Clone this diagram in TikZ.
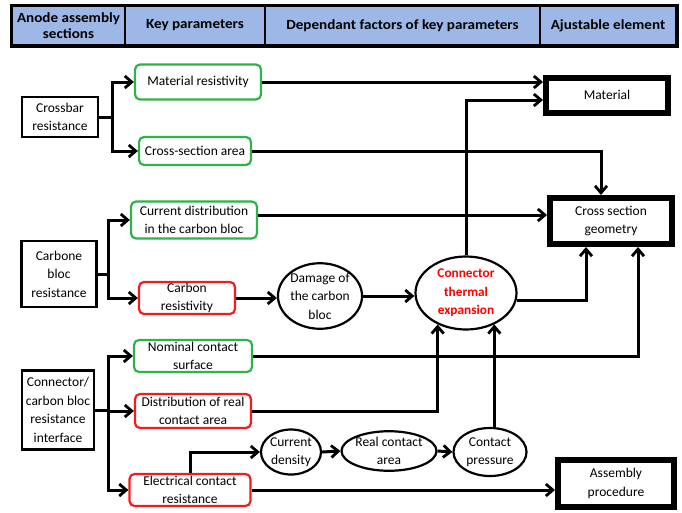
\documentclass[tikz,border=0pt]{standalone}
\usepackage{fontspec}
\setmainfont{Carlito}
\newfontfamily\hdrfont[FakeStretch=1.08]{Carlito}
\usetikzlibrary{shapes.geometric,arrows.meta,calc}
\definecolor{hdrblue}{HTML}{9DB8E6}
\definecolor{gbox}{HTML}{2DB34A}
\definecolor{rbox}{HTML}{F21C1C}
\tikzset{
  txt/.style={font=\fontsize{13.5}{18.5}\selectfont, align=center, inner sep=0pt},
  gbx/.style={txt, draw=gbox, line width=2.2pt, rounded corners=5pt, fill=white},
  rbx/.style={txt, draw=rbox, line width=2.2pt, rounded corners=5pt, fill=white},
  kbx/.style={txt, draw=black, line width=2.2pt, fill=white},
  tbx/.style={txt, draw=black, line width=6pt, fill=white},
  elx/.style={txt, ellipse, draw=black, line width=2.2pt, fill=white},
  hcell/.style={draw=black, line width=2pt, fill=hdrblue, inner sep=0pt, align=center,
    font=\hdrfont\bfseries\fontsize{14}{15.5}\selectfont},
  arr/.style={line width=3pt, -{Straight Barb[length=7pt,width=12pt,line width=2.8pt]}},
  ln/.style={line width=3pt}
}
\begin{document}
\begin{tikzpicture}[x=1pt,y=-1pt]
\useasboundingbox (0,0) rectangle (682,512);
% header
\node[hcell, minimum width=113pt, minimum height=39pt] (h1) at (68.5,25.5) {Anode assembly\\sections};
\node[hcell, minimum width=140pt, minimum height=39pt] (h2) at (195,25.5) {Key parameters};
\node[hcell, minimum width=275pt, minimum height=39pt] (h3) at (402.5,25.5) {Dependant factors of key parameters};
\node[hcell, minimum width=136pt, minimum height=39pt] (h4) at (608,25.5) {Ajustable element};
\draw[line width=3pt] (h1.north west) rectangle (h4.south east);

% left column
\node[kbx, minimum width=76pt, minimum height=40pt] (cb) at (60,117) {Crossbar\\resistance};
\node[kbx, minimum width=75pt, minimum height=66pt] (cbr) at (59,274) {Carbone\\bloc\\resistance};
\node[kbx, minimum width=72pt, minimum height=79pt] (ci) at (58,410) {Connector/\\carbon bloc\\resistance\\interface};

% key parameters
\node[gbx, minimum width=126pt, minimum height=35pt] (mr) at (198,82) {Material resistivity};
\node[gbx, minimum width=112pt, minimum height=28pt] (csa) at (195,151) {Cross-section area};
\node[gbx, minimum width=126pt, minimum height=37pt] (cd) at (194,220) {Current distribution\\in the carbon bloc};
\node[rbx, minimum width=96pt, minimum height=32pt] (cr) at (187,298) {Carbon\\resistivity};
\node[gbx, minimum width=118pt, minimum height=32pt] (ncs) at (193,356) {Nominal contact\\surface};
\node[rbx, minimum width=116pt, minimum height=34pt] (drc) at (193,411) {Distribution of real\\contact area};
\node[rbx, minimum width=121pt, minimum height=32pt] (ecr) at (190,490) {Electrical contact\\resistance};

% dependant factors
\node[elx, minimum width=82pt, minimum height=56pt] (dmg) at (320,296) {Damage of\\the carbon\\bloc};
\node[elx, minimum width=101pt, minimum height=73pt, text=red, font=\bfseries\fontsize{13.3}{18.5}\selectfont] (cte) at (466,293) {Connector\\thermal\\expansion};
\node[elx, minimum width=60pt, minimum height=45pt] (cdn) at (291,452) {Current\\density};
\node[elx, minimum width=90pt, minimum height=32pt] (rca) at (389,451) {Real contact\\area};
\node[elx, minimum width=73pt, minimum height=48pt] (cp) at (490,452) {Contact\\pressure};

% adjustable elements
\node[tbx, minimum width=122pt, minimum height=35pt] (mat) at (607,95) {Material};
\node[tbx, minimum width=122pt, minimum height=46pt] (csg) at (611,221) {Cross section\\geometry};
\node[tbx, minimum width=116pt, minimum height=47pt] (ap) at (616,483.5) {Assembly\\procedure};

% trunks and offset points
\coordinate (t1) at (112,117);
\coordinate (t2) at (108,274);
\coordinate (t3) at (108,410);
\coordinate (cdo) at ($(cd.east)+(0,-5)$);
\coordinate (mati) at ($(mat.west)+(0,5)$);
\coordinate (csgn) at ($(csg.north)+(-10,0)$);
\coordinate (csgs1) at ($(csg.south)+(-25,0)$);
\coordinate (csgs2) at ($(csg.south)+(27,0)$);

\draw[ln] (cb.east) -- (t1);
\draw[arr] (t1) |- (mr.west);
\draw[arr] (t1) |- (csa.west);
\draw[ln] (cbr.east) -- (t2);
\draw[arr] (t2) |- (cd.west);
\draw[arr] (t2) |- (cr.west);
\draw[ln] (ci.east) -- (t3);
\draw[arr] (t3) |- (ncs.west);
\draw[arr] (t3) |- (drc.west);
\draw[arr] (t3) |- (ecr.west);

% to Material
\draw[arr] (mr.east) -- (mr.east -| mat.west);
\draw[arr] (cte.north) |- (mati);
% to Cross section geometry
\draw[arr] (csa.east) -| (csgn);
\draw[arr] (cdo) -- (cdo -| csg.west);
\draw[arr] (cte.-8) -| (csgs1);
\draw[arr] (ncs.east) -| (csgs2);
% carbon chain
\draw[arr] (cr.east) -- (cr.east -| dmg.west);
\draw[arr] (dmg.east) -- (dmg.east -| cte.west);
% to thermal expansion
\draw[arr] (drc.east) -| (cte.228);
\draw[arr] (cp.north -| cte.312) -- (cte.312);
% contact chain
\draw[arr] (ecr.north) |- (cdn.west);
\draw[arr] (cdn.east) -- (rca.west);
\draw[arr] (rca.east) -- (cp.west);
\draw[arr] (ecr.east) -- (ecr.east -| ap.west);
\end{tikzpicture}
\end{document}
